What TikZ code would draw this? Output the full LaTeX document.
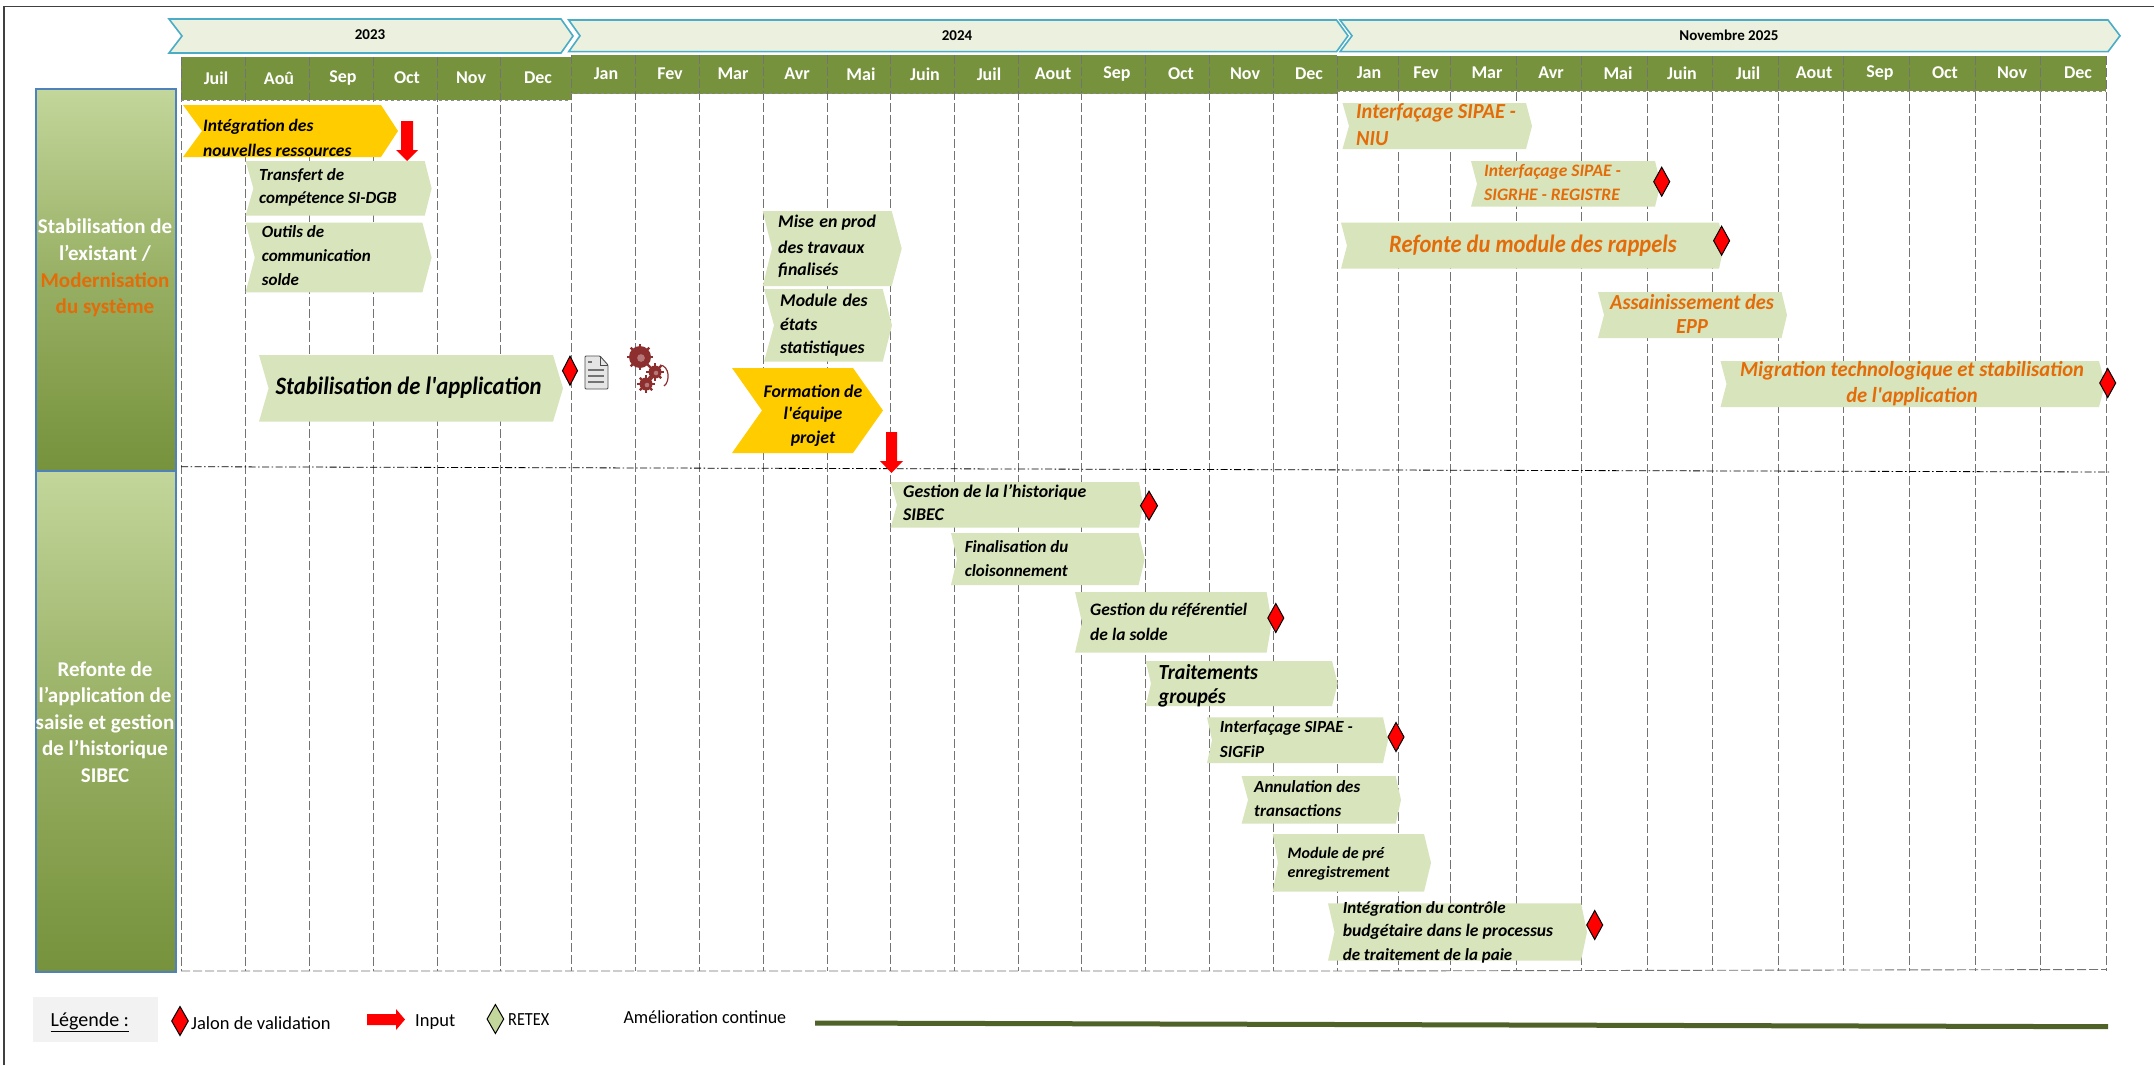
\documentclass[tikz,border=0pt]{standalone}
\usepackage{graphicx}
\usepackage{fontspec}
\defaultfontfeatures[\rmfamily]{}
\setmainfont{Carlito}
\usetikzlibrary{arrows.meta}
\definecolor{hdr}{HTML}{76923C}
\definecolor{hdrtop}{HTML}{C3D69B}
\definecolor{hdrmid}{HTML}{97AF63}
\definecolor{barfill}{HTML}{D8E4BC}
\definecolor{yel}{HTML}{FFCC00}
\definecolor{org}{HTML}{E36C09}
\definecolor{yrfill}{HTML}{EBF1DE}
\definecolor{yrline}{HTML}{4BACC6}
\definecolor{sideline}{HTML}{4F81BD}
\definecolor{gearred}{HTML}{8E2F2F}
\definecolor{contline}{HTML}{4F6228}
\tikzset{
  x=1pt,y=-1pt,
  grid/.style={draw=black!55,line width=0.9pt,dash pattern=on 9pt off 3pt},
  yearbox/.style={draw=yrline,line width=1.6pt,fill=yrfill},
  monthlab/.style={text=white,font=\fontsize{18}{20}\selectfont\bfseries,inner sep=0pt,anchor=center},
  yearlab/.style={font=\fontsize{15}{18}\selectfont\bfseries,inner sep=0pt},
  txt/.style={inner sep=0pt,font=\fontsize{#1}{#1}\selectfont\bfseries\itshape,anchor=west},
  ctxt/.style={inner sep=0pt,font=\fontsize{#1}{#1}\selectfont\bfseries\itshape,anchor=center},
  side/.style={draw=sideline,line width=1.2pt,top color=hdrtop,bottom color=hdr,middle color=hdrmid},
  sidelab/.style={align=center,inner sep=0pt,text=white,font=\fontsize{21}{26.6}\selectfont\bfseries},
  jalon/.style={draw=black,line width=1pt,fill=red},
  leg/.style={inner sep=0pt,font=\fontsize{#1}{#1}\selectfont,anchor=west},
}
\newcommand{\sq}[2]{\scalebox{#1}[1]{#2}}
% chevron: x0 notch tipstart tip ytop ybot colour
\newcommand{\chev}[7]{\fill[#7] (#1,#5) -- (#3,#5) -- (#4,{(#5+#6)/2}) -- (#3,#6) -- (#1,#6) -- (#2,{(#5+#6)/2}) -- cycle;}
\newcommand{\jal}[4][jalon]{\draw[#1] (#2,#3-14.5) -- (#2+#4,#3) -- (#2,#3+14.5) -- (#2-#4,#3) -- cycle;}
\begin{document}
\begin{tikzpicture}
\useasboundingbox (0,0) rectangle (2154,1065);
\fill[white] (0,0) rectangle (2154,1065);
% frame
\draw[black!75,line width=1.6pt] (4,1065) -- (4,6.6) -- (2154,6.6);
% month bars
\fill[hdr] (181,57) rectangle (571,100);
\fill[hdr] (571,55) rectangle (1337,93.5);
\fill[hdr] (1337,56) rectangle (2106,91);
% grid
\foreach \x in {181,245.6,309,373,437,500.5}{\draw[grid] (\x,57) -- (\x,971);}
\foreach \x in {571,635,699,763,827,890.6,954,1018,1081.4,1145.7,1209.5,1273}{\draw[grid] (\x,55) -- (\x,971);}
\foreach \x in {1337,1398,1450,1516,1581.5,1647,1712,1778,1843.6,1909.5,1975,2040.7,2106}{\draw[grid] (\x,56) -- (\x,971);}
\draw[grid] (181,971) -- (1337,971) -- (2106,969.5);
\draw[black!45,line width=1pt,dashed] (181,100) -- (571,100);
\draw[black!45,line width=1pt,dashed] (571,93.5) -- (1337,93.5);
\draw[black!45,line width=1pt,dashed] (1337,91) -- (2106,91);
% divider
\draw[black,line width=0.8pt,dash pattern=on 7pt off 2.5pt on 1.5pt off 2.5pt] (181,466.7) -- (2109,472);
% years
\draw[yearbox] (169,19) -- (561,19) -- (573,36) -- (561,53) -- (169,53) -- (182,36) -- cycle;
\draw[yearbox] (568.7,20) -- (1336.5,20) -- (1348,35.8) -- (1336.5,51.7) -- (568.7,51.7) -- (580,35.8) -- cycle;
\draw[yearbox] (1340,20) -- (2108,20) -- (2120,35.8) -- (2108,51.7) -- (1340,51.7) -- (1352,35.8) -- cycle;
\node[yearlab] (y23) at (370,35) {2023};
\node[yearlab] (y24) at (957,35.7) {2024};
\node[yearlab] (y25) at (1729,35) {Novembre 2025};
% months
\foreach \x/\t in {216/Juil,279/Aoû,343/Sep,407/Oct,471/Nov,538/Dec}{\node[monthlab] at (\x,78) {\t};}
\foreach \x/\t in {606/Jan,670/Fev,733/Mar,797/Avr,861/Mai,925/Juin,989/Juil,1053/Aout,1117/Sep,1181/Oct,1245/Nov,1309/Dec}{\node[monthlab] at (\x,74) {\t};}
\foreach \x/\t in {1369/Jan,1426/Fev,1487/Mar,1551/Avr,1618/Mai,1682/Juin,1748/Juil,1814/Aout,1880/Sep,1945/Oct,2012/Nov,2078/Dec}{\node[monthlab] at (\x,73) {\t};}
% side boxes
\path[side] (36,89) rectangle (176,471);
\path[side] (36,471) rectangle (176,972);
\node[sidelab] (s1) at (105,268)
  {Stabilisation de\\l’existant /\\\textcolor{org}{Modernisation}\\\textcolor{org}{du système}};
\node[sidelab] (s2) at (105,722)
  {Refonte de\\l’application de\\saisie et gestion\\de l’historique\\SIBEC};
% bars
\chev{183}{202}{381}{398}{105}{157}{yel}
\chev{245.6}{253.4}{424.7}{431.6}{161}{215.7}{barfill}
\chev{245.6}{254.8}{422.4}{431.6}{222.7}{292.3}{barfill}
\chev{259}{268.6}{553}{563}{355}{421.7}{barfill}
\chev{762.7}{772}{891.7}{901.7}{211}{286}{barfill}
\chev{764}{774}{882.7}{892}{289}{361.7}{barfill}
\chev{732}{762}{853}{883}{368}{453}{yel}
\chev{1342.5}{1349}{1526}{1532}{103}{149}{barfill}
\chev{1471}{1477}{1655}{1660.6}{161}{206.7}{barfill}
\chev{1341}{1347}{1719}{1724}{222.7}{268.7}{barfill}
\chev{1598}{1604}{1781.5}{1787}{292}{338}{barfill}
\chev{1720.5}{1726.5}{2099}{2105}{361}{407}{barfill}
\chev{890.6}{897}{1139}{1143}{482}{527.7}{barfill}
\chev{951}{957}{1138.6}{1144.7}{533}{585}{barfill}
\chev{1075}{1082}{1266.6}{1271.7}{592}{652.7}{barfill}
\chev{1145.7}{1151}{1332}{1337.6}{661}{706}{barfill}
\chev{1207}{1212}{1383}{1388}{717.3}{763}{barfill}
\chev{1241.6}{1248}{1395.7}{1401}{776}{823.7}{barfill}
\chev{1272.8}{1278}{1424}{1431}{834}{891.7}{barfill}
\chev{1328}{1334.5}{1581}{1587}{903.3}{960.7}{barfill}
% bar labels
\node[txt=17.5] (t1a) at (203,127) {Intégration des};
\node[txt=17.5] (t1b) at (203,150) {nouvelles ressources};
\node[txt=17] (t2a) at (259,175.7) {Transfert de};
\node[txt=17] (t2b) at (259,199) {compétence  SI-DGB};
\node[txt=17] (t3a) at (261.7,232) {Outils de};
\node[txt=17] (t3b) at (261.7,256) {communication};
\node[txt=17] (t3c) at (261.7,280) {solde};
\node[txt=25] (t4) at (275.5,388) {\sq{.905}{Stabilisation de l'application}};
\node[txt=17.8] (t5a) at (778,223) {Mise\hspace{1.5pt} en prod};
\node[txt=17.8] (t5b) at (778,247) {des travaux};
\node[txt=17.8] (t5c) at (778,270.7) {finalisés};
\node[txt=17.8] (t6a) at (780,300) {Module\hspace{1.5pt} des};
\node[txt=17.8] (t6b) at (780,324.7) {états};
\node[txt=17.8] (t6c) at (780,349) {statistiques};
\node[ctxt=17.8] (t7a) at (813,391) {Formation de};
\node[ctxt=17.8] (t7b) at (813,415) {l'équipe};
\node[ctxt=17.8] (t7c) at (813,439) {projet};
\node[txt=21.5,text=org] (o1a) at (1356,113) {\sq{.95}{Interfaçage SIPAE -}};
\node[txt=21.5,text=org] (o1b) at (1356,139) {\sq{.95}{NIU}};
\node[txt=17.5,text=org] (o2a) at (1484,171.7) {Interfaçage  SIPAE -};
\node[txt=17.5,text=org] (o2b) at (1484,195) {SIGRHE  - REGISTRE};
\node[ctxt=25,text=org] (o3) at (1533,245.7) {\sq{.9}{Refonte du module des rappels}};
\node[ctxt=21.5,text=org] (o4a) at (1692,301.7) {\sq{.95}{Assainissement des}};
\node[ctxt=21.5,text=org] (o4b) at (1692,327) {\sq{.95}{EPP}};
\node[ctxt=21.5,text=org] (o5a) at (1912,371) {\sq{.96}{Migration technologique et stabilisation}};
\node[ctxt=21.5,text=org] (o5b) at (1912,397) {\sq{.96}{de l'application}};
\node[txt=17.8] (r1a) at (903,492.3) {Gestion de la l’historique};
\node[txt=17.8] (r1b) at (903,515) {SIBEC};
\node[txt=17] (r2a) at (964.6,547) {Finalisation du};
\node[txt=17] (r2b) at (964.6,571) {cloisonnement};
\node[txt=17.5] (r3a) at (1090,610) {Gestion du référentiel};
\node[txt=17.5] (r3b) at (1090,634) {de la solde};
\node[txt=21.5] (r4a) at (1158.5,671.7) {\sq{.93}{Traitements}};
\node[txt=21.5] (r4b) at (1158.5,697.7) {\sq{.93}{groupés}};
\node[txt=17] (r5a) at (1219.7,728) {Interfaçage  SIPAE -};
\node[txt=17] (r5b) at (1219.7,752) {SIGFiP};
\node[txt=17] (r6a) at (1254,787) {Annulation des};
\node[txt=17] (r6b) at (1254,811) {transactions};
\node[txt=16] (r7a) at (1287.5,853.7) {Module de pré};
\node[txt=16] (r7b) at (1287.5,873.7) {enregistrement};
\node[txt=17] (r8a) at (1342.6,908.7) {Intégration du contrôle};
\node[txt=17.6] (r8b) at (1342.6,932) {budgétaire dans le processus};
\node[txt=17] (r8c) at (1342.6,955.7) {de traitement de la paie};
% milestones
\jal{570}{370.7}{7.5}
\jal{1661.7}{181.7}{8}
\jal{1721.6}{240.7}{8}
\jal{2107.7}{383}{8}
\jal{1149}{505.7}{8.5}
\jal{1275.8}{618}{8}
\jal{1396}{737}{8}
\jal{1594.7}{925}{8}
% red arrows
\fill[red] (401,121) -- (413,121) -- (413,150) -- (418,150) -- (407,161) -- (396,150) -- (401,150) -- cycle;
\fill[red] (886,432) -- (897,432) -- (897,461) -- (903,461) -- (891.5,473) -- (880,461) -- (886,461) -- cycle;
% document icon
\draw[black!70,fill=black!10,line width=0.9pt,rounded corners=1pt] (585,356) -- (600,356) -- (608,365) -- (608,389) -- (585,389) -- cycle;
\draw[black!70,line width=0.7pt] (600,356) -- (600,365) -- (608,365);
\foreach \y/\r in {362/592,370/604,376/604,382/604}{\draw[black!55,line width=1.7pt] (588,\y) -- (\r,\y);}
% gears
\foreach \cx/\cy/\r in {640/357/11,655/372/6.5,646/384/6.5}{
  \foreach \a in {0,45,...,315}{\draw[gearred,line width=2.2pt] (\cx,\cy) -- ++(\a:\r+2.2);}
  \fill[gearred] (\cx,\cy) circle (\r);
  \fill[white,opacity=.35] (\cx+1,\cy+1) circle (\r*.35);
}
\draw[gearred,line width=1.2pt] (660,365) .. controls (670,366) and (670,382) .. (664,386);
% legend
\fill[black!5] (32.7,997) rectangle (158,1041.7);
\node[leg=20] (lg) at (50.5,1022) {\underline{Légende :}};
\jal{180}{1021}{8.3}
\node[leg=18.5] (l1) at (191,1022.7) {Jalon de validation};
\fill[red] (367,1014) -- (396,1014) -- (396,1009) -- (405,1019.5) -- (396,1030) -- (396,1025) -- (367,1025) -- cycle;
\node[leg=18.5] (l2) at (415,1022) {Input};
\jal[draw=black,line width=1pt,fill=hdrtop]{495.4}{1019}{8.3}
\node[leg=18.5] (l3) at (508,1020) {\sq{.88}{RETEX}};
\node[leg=18.5] (l4) at (623.4,1017) {\sq{.97}{Amélioration continue}};
\coordinate (c1) at (815,1023);
\coordinate (c2) at (2108,1026.7);
\draw[contline,line width=5pt] (c1) -- (c2);
\end{tikzpicture}
\end{document}
